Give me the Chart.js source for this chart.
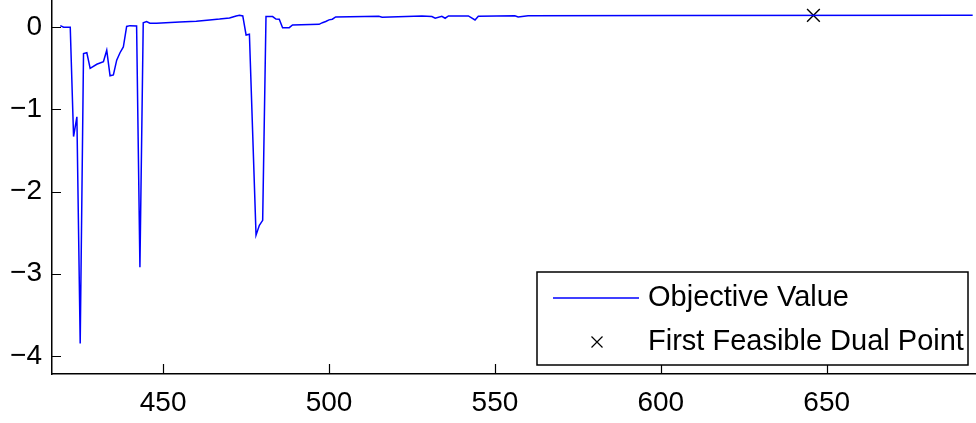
<!DOCTYPE html>
<html lang="en">

<head>
    <meta charset="UTF-8">
    <title>Objective Value</title>
    <style>
        body { margin: 0; background: #fff; }
        #box { width: 976px; height: 423px; position: relative; }
    </style>
</head>

<body>
    <div id="box">
        <canvas id="objChart"></canvas>
    </div>
</body>

</html>
<script src="https://cdn.jsdelivr.net/npm/chart.js"></script>
<script>
    // iteration / objective value
    const iterations = [419, 420, 422, 423, 424, 425, 426, 427, 428, 430, 432, 433, 434, 435, 436, 437, 438, 439, 440, 442,
        443, 444, 445, 446, 448, 455, 460, 464, 467, 470, 472, 473, 474, 475, 476, 478, 479, 480, 481, 483,
        484, 485, 486, 488, 489, 497, 498, 499, 500, 501, 502, 515, 516, 528, 531, 532, 534, 535, 536, 542,
        544, 545, 556, 557, 560, 603, 694];
    const objective = [0.02, 0.0, 0.0, -1.33, -1.09, -3.85, -0.32, -0.31, -0.50, -0.45, -0.42, -0.28, -0.59, -0.58, -0.40, -0.31, -0.24, 0.01, 0.02, 0.015,
        -2.92, 0.055, 0.07, 0.05, 0.05, 0.065, 0.073, 0.09, 0.10, 0.113, 0.138, 0.146, 0.138, -0.094, -0.085, -2.53, -2.41, -2.35, 0.13, 0.13,
        0.10, 0.098, -0.005, -0.005, 0.028, 0.036, 0.056, 0.07, 0.09, 0.098, 0.126, 0.134, 0.122, 0.138, 0.13, 0.11, 0.134, 0.11, 0.138, 0.138,
        0.089, 0.135, 0.14, 0.126, 0.14, 0.143, 0.145];
    const feasibleX = [646];
    const feasibleY = [0.146];

    const xTicks = [450, 500, 550, 600, 650];
    const yTicks = [-4, -3, -2, -1, 0];

    const fontName = "'Liberation Sans', Arial, sans-serif";

    function fmt(v) {
        return v < 0 ? '\u2212' + Math.abs(v) : String(v);
    }

    // MATLAB style ticks pointing into the plot
    const inwardTicks = {
        id: 'inwardTicks',
        afterDatasetsDraw(chart) {
            const ctx = chart.ctx;
            const x = chart.scales.x, y = chart.scales.y;
            ctx.save();
            ctx.strokeStyle = '#000';
            ctx.lineWidth = 1.2;
            ctx.beginPath();
            xTicks.forEach(v => {
                const px = Math.round(x.getPixelForValue(v)) + 0.5;
                ctx.moveTo(px, y.bottom);
                ctx.lineTo(px, y.bottom - 10);
            });
            yTicks.forEach(v => {
                const py = Math.round(y.getPixelForValue(v)) + 0.5;
                ctx.moveTo(x.left, py);
                ctx.lineTo(x.left + 9, py);
            });
            ctx.stroke();
            ctx.restore();
        }
    };

    const boxLegend = {
        id: 'boxLegend',
        afterDraw(chart) {
            const ctx = chart.ctx;
            const ds = chart.data.datasets;
            const l = 537, t = 272, r = 968, b = 365;
            ctx.save();
            ctx.fillStyle = '#fff';
            ctx.fillRect(l, t, r - l, b - t);
            ctx.strokeStyle = '#000';
            ctx.lineWidth = 1.5;
            ctx.strokeRect(l, t, r - l, b - t);

            ctx.strokeStyle = ds[0].borderColor;
            ctx.lineWidth = 1.5;
            ctx.beginPath();
            ctx.moveTo(553, 298);
            ctx.lineTo(639, 298);
            ctx.stroke();

            ctx.strokeStyle = '#000';
            ctx.lineWidth = 1.2;
            ctx.beginPath();
            ctx.moveTo(591.5, 336.5); ctx.lineTo(602.5, 347.5);
            ctx.moveTo(602.5, 336.5); ctx.lineTo(591.5, 347.5);
            ctx.stroke();

            ctx.fillStyle = '#000';
            ctx.font = '29px ' + fontName;
            ctx.textBaseline = 'middle';
            ctx.fillText(ds[0].label, 648, 298);
            ctx.fillText(ds[1].label, 648, 342);
            ctx.restore();
        }
    };

    let objChart;
    function makeChart() {
        const ctx = document.getElementById('objChart');
        objChart = new Chart(ctx, {
            type: 'line',
            data: {
                datasets: [{
                    label: 'Objective Value',
                    data: iterations.map((v, i) => ({ x: v, y: objective[i] })),
                    borderColor: '#0000ff',
                    borderWidth: 1.5,
                    pointRadius: 0,
                    tension: 0,
                    fill: false
                }, {
                    label: 'First Feasible Dual Point',
                    data: feasibleX.map((v, i) => ({ x: v, y: feasibleY[i] })),
                    showLine: false,
                    pointStyle: 'crossRot',
                    pointRadius: 9,
                    borderColor: '#000',
                    backgroundColor: '#000',
                    pointBorderWidth: 1.4
                }]
            },
            options: {
                responsive: true,
                maintainAspectRatio: false,
                animation: false,
                layout: { padding: 0, autoPadding: false },
                plugins: {
                    legend: { display: false },
                    tooltip: { enabled: false }
                },
                scales: {
                    x: {
                        type: 'linear',
                        min: 416.5,
                        max: 695,
                        afterBuildTicks: s => { s.ticks = xTicks.map(v => ({ value: v })); },
                        afterFit: s => { s.height = 49; s.paddingLeft = 0; s.paddingRight = 0; },
                        grid: { display: false, drawTicks: false },
                        border: { color: '#000', width: 1.5 },
                        ticks: {
                            color: '#000',
                            padding: 12,
                            maxRotation: 0,
                            font: { family: fontName, size: 28 },
                            callback: v => fmt(v)
                        }
                    },
                    y: {
                        min: -4.22,
                        max: 0.332,
                        afterBuildTicks: s => { s.ticks = yTicks.map(v => ({ value: v })); },
                        afterFit: s => { s.width = 52; s.paddingTop = 0; s.paddingBottom = 0; },
                        grid: { display: false, drawTicks: false },
                        border: { color: '#000', width: 1.5 },
                        ticks: {
                            color: '#000',
                            padding: 10,
                            font: { family: fontName, size: 28 },
                            callback: v => fmt(v)
                        }
                    }
                }
            },
            plugins: [inwardTicks, boxLegend]
        });
    }
    window.onload = makeChart;
</script>
